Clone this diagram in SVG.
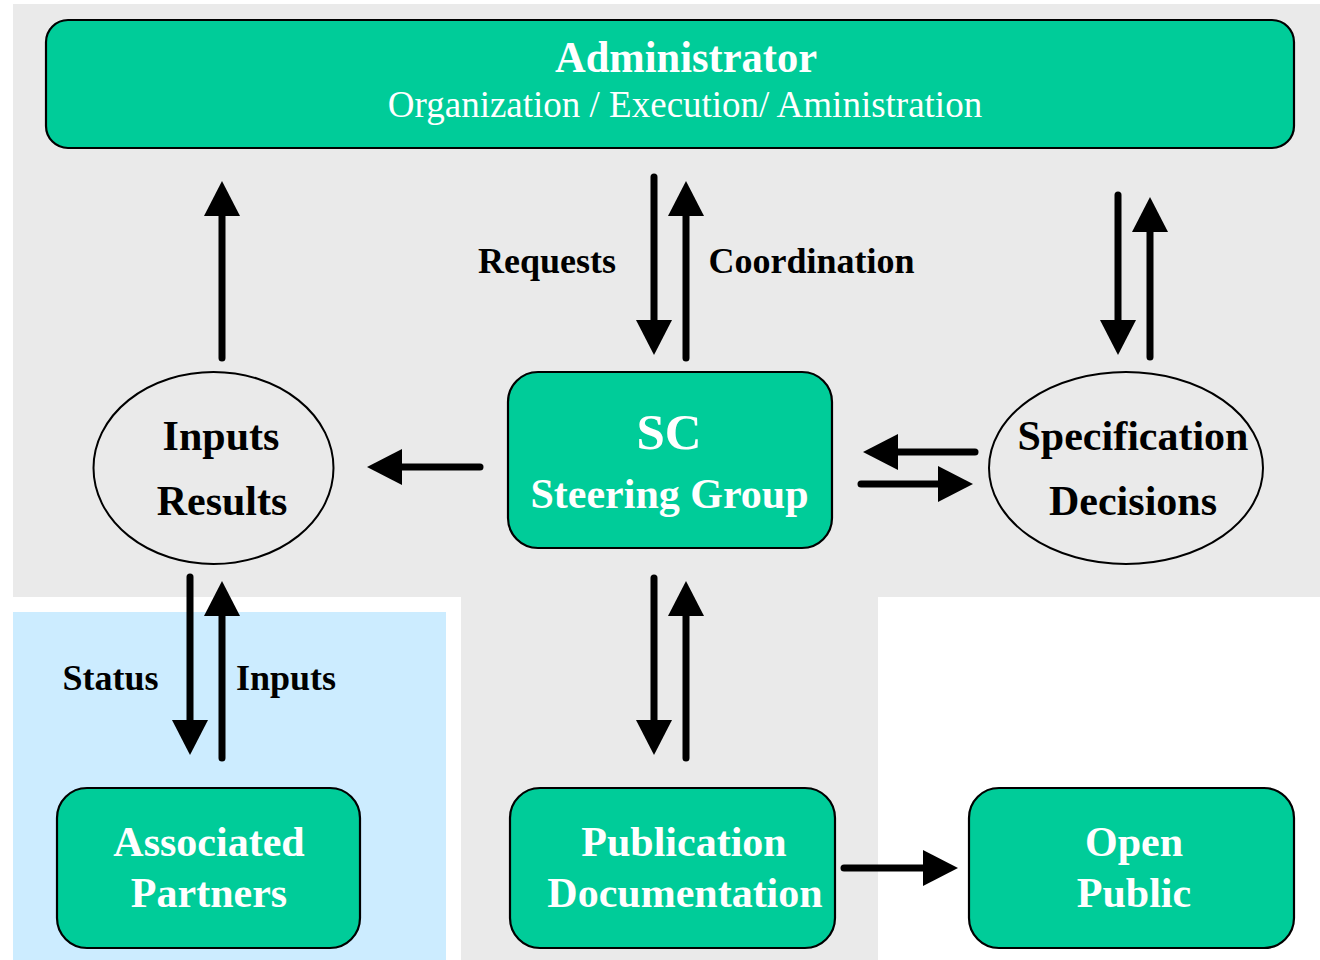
<svg xmlns="http://www.w3.org/2000/svg" width="1320" height="960" viewBox="0 0 1320 960">
<style>
.box{fill:#00CC99;stroke:#000;stroke-width:2.2}
.ell{fill:#EAEAEA;stroke:#000;stroke-width:2}
.wt{fill:#fff;font-family:"Liberation Serif","Times New Roman",serif;text-anchor:middle}
.bt{fill:#000;font-family:"Liberation Serif","Times New Roman",serif;font-weight:bold;text-anchor:middle}
.b{font-weight:bold}
.ar{stroke:#000;stroke-width:7;stroke-linecap:round;fill:none;marker-end:url(#ah)}
</style>
<defs>
<marker id="ah" markerUnits="userSpaceOnUse" markerWidth="36" markerHeight="36" refX="0" refY="18" orient="auto" viewBox="0 0 36 36">
<path d="M0,0 L35,18 L0,36 Z" fill="#000"/>
</marker>
</defs>
<rect x="0" y="0" width="1320" height="960" fill="#fff"/>
<g id="background">
<rect x="13" y="4" width="1307" height="593" fill="#EAEAEA"/>
<rect x="461" y="597" width="417" height="363" fill="#EAEAEA"/>
<rect x="13" y="612" width="433" height="348" fill="#CCECFF"/>
</g>
<g id="administrator">
<rect class="box" x="46" y="20" width="1248" height="128" rx="22"/>
<text class="wt b" x="686" y="72" font-size="44" textLength="262" lengthAdjust="spacingAndGlyphs">Administrator</text>
<text class="wt" x="685" y="117" font-size="37">Organization / Execution/ Aministration</text>
</g>
<g id="inputs-results">
<ellipse class="ell" cx="213.5" cy="468" rx="120" ry="96"/>
<text class="bt" x="221" y="450" font-size="42">Inputs</text>
<text class="bt" x="222" y="515" font-size="42">Results</text>
</g>
<g id="steering-group">
<rect class="box" x="508" y="372" width="324" height="176" rx="30"/>
<text class="wt b" x="669" y="449" font-size="51">SC</text>
<text class="wt b" x="669.5" y="508" font-size="42">Steering Group</text>
</g>
<g id="specification-decisions">
<ellipse class="ell" cx="1126" cy="468" rx="137" ry="96"/>
<text class="bt" x="1133" y="450" font-size="42">Specification</text>
<text class="bt" x="1133" y="515" font-size="42">Decisions</text>
</g>
<g id="associated-partners">
<rect class="box" x="57" y="788" width="303" height="160" rx="30"/>
<text class="wt b" x="209" y="856" font-size="42">Associated</text>
<text class="wt b" x="209" y="907" font-size="42">Partners</text>
</g>
<g id="publication-documentation">
<rect class="box" x="510" y="788" width="325" height="160" rx="30"/>
<text class="wt b" x="684" y="856" font-size="42">Publication</text>
<text class="wt b" x="685" y="907" font-size="42">Documentation</text>
</g>
<g id="open-public">
<rect class="box" x="969" y="788" width="325" height="160" rx="30"/>
<text class="wt b" x="1134" y="856" font-size="42">Open</text>
<text class="wt b" x="1134" y="907" font-size="42">Public</text>
</g>
<g id="connectors">
<path class="ar" d="M222,358 L222,216"/>
<path class="ar" d="M654,177 L654,320"/>
<path class="ar" d="M686,358 L686,216"/>
<path class="ar" d="M1118,195 L1118,320"/>
<path class="ar" d="M1150,357 L1150,232"/>
<path class="ar" d="M480,467 L402,467"/>
<path class="ar" d="M975,452 L898,452"/>
<path class="ar" d="M861,484 L938,484"/>
<path class="ar" d="M190,577 L190,720"/>
<path class="ar" d="M222,758 L222,616"/>
<path class="ar" d="M654,578 L654,720"/>
<path class="ar" d="M686,758 L686,616"/>
<path class="ar" d="M844,868 L923,868"/>
<text class="bt" x="547" y="273" font-size="36">Requests</text>
<text class="bt" x="811.5" y="273" font-size="36">Coordination</text>
<text class="bt" x="110.5" y="690" font-size="36">Status</text>
<text class="bt" x="286" y="690" font-size="36">Inputs</text>
</g>
</svg>
